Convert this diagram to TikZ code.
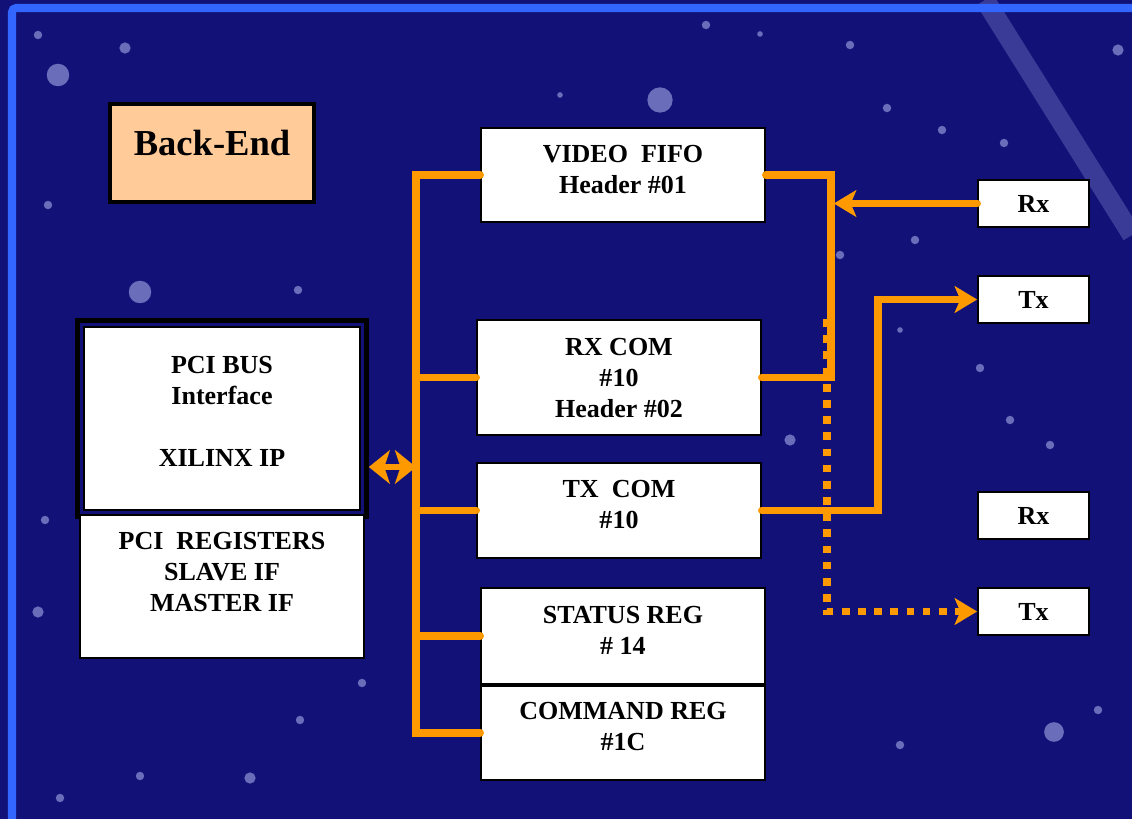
\documentclass[tikz,border=0pt]{standalone}
\usepackage{fontspec}
\setmainfont{Liberation Serif}
\usetikzlibrary{arrows.meta,positioning,fit,calc}
\definecolor{beNavy}{RGB}{17,17,120}
\definecolor{beFrame}{RGB}{51,102,255}
\definecolor{beOrange}{RGB}{255,153,0}
\definecolor{bePeach}{RGB}{255,204,153}
\definecolor{beStar}{RGB}{180,185,240}

\begin{document}
\begin{tikzpicture}[x=0.025cm, y=-0.025cm,
  blk/.style={draw, line width=1.2pt, fill=white, minimum width=7.1cm,
              font=\bfseries\fontsize{18.5}{22}\selectfont, align=center, text depth=8.5pt},
  port/.style={draw, line width=1.2pt, fill=white, minimum width=2.775cm,
               minimum height=1.175cm, font=\bfseries\fontsize{18.5}{22}\selectfont},
  bus/.style={line width=5.5pt, beOrange, line cap=round},
  arr/.style={bus, -{Stealth[length=16pt,width=19pt,inset=4pt]}},
  dots/.style={line width=5.5pt, beOrange, dash pattern=on 5.5pt off 6pt,
               -{Stealth[length=16pt,width=19pt,inset=4pt]}}
]
  \useasboundingbox (0,0) rectangle (1132,819);
  % background with stars
  \fill[beNavy] (0,0) rectangle (1132,819);
  \draw[beStar, opacity=0.25, line width=14pt] (985,0) -- (1132,235);
  \foreach \sx/\sy/\sr in {58/75/8, 38/35/3, 125/48/4, 140/292/8, 660/100/9, 48/205/3,
      298/290/3, 706/25/3, 760/34/2, 850/45/3, 887/108/3, 942/130/3, 1004/143/3,
      915/240/3, 900/330/2, 980/368/3, 1054/732/7, 1098/710/3, 38/612/4, 45/520/3,
      362/683/3, 250/778/4, 140/776/3, 1118/50/4, 560/95/2, 840/255/3, 1010/420/3,
      1050/445/3, 900/745/3, 60/798/3, 300/720/3, 790/440/4}
    \fill[beStar, opacity=0.55] (\sx,\sy) circle[radius=\sr pt];
  \draw[beFrame, line width=5.7pt, rounded corners=3pt] (12,819) -- (12,8) -- (1132,8);

  \node[draw, line width=3.5pt, fill=bePeach, minimum width=5.1cm, minimum height=2.45cm,
        font=\bfseries\fontsize{26}{30}\selectfont, text depth=15pt] (backend) at (212,153) {Back-End};

  % PCI side
  \node[blk, minimum width=6.9cm, minimum height=4.575cm, text depth=10pt] (pci) at (222,418.5)
       {PCI BUS\\Interface\\[22pt]XILINX IP};
  \node[draw, line width=3.5pt, fit=(pci), inner sep=3.9pt] (pciframe) {};
  \node[blk, minimum height=3.575cm, text depth=21pt] (regs) at (222,586.5)
       {PCI\ \ REGISTERS\\SLAVE IF\\MASTER IF};

  % register blocks
  \node[blk, minimum height=2.35cm]  (fifo)   at (623,175)   {VIDEO\ \ FIFO\\Header \#01};
  \node[blk, minimum height=2.875cm, text depth=0pt] (rxcom) at (619,377.5) {RX COM\\\#10\\Header \#02};
  \node[blk, minimum height=2.375cm] (txcom)  at (619,510.5) {TX\ \ COM\\\#10};
  \node[blk, minimum height=2.4cm]   (status) at (623,636)   {STATUS REG\\\# 14};
  \node[blk, minimum height=2.35cm, below=0pt of status] (cmd) {COMMAND REG\\\#1C};

  % ports
  \node[port] (rxa) at (1033.5,203.5) {Rx};
  \node[port] (txa) at (1033.5,299.5) {Tx};
  \node[port] (rxb) at (1033.5,515.5) {Rx};
  \node[port] (txb) at (1033.5,611.5) {Tx};

  % internal bus
  \coordinate (bx) at (416,0);
  \draw[bus] (fifo.west) -- (fifo.west -| bx) -- (cmd.west -| bx) -- (cmd.west);
  \foreach \n in {rxcom,txcom,status}
    \draw[bus] (\n.west) -- (\n.west -| bx);
  \draw[beOrange, line width=4pt, {Stealth[length=15pt,width=24pt,inset=4pt]}-{Stealth[length=15pt,width=24pt,inset=4pt]}]
    (pciframe.east |- 0,467) -- (bx |- 0,467);

  % links to the ports
  \coordinate (jx) at (831,0);
  \coordinate (dx) at (827,0);
  \coordinate (tx) at (878,0);
  \draw[dots] (rxcom.north -| dx) -- (txb.west -| dx) -- (txb.west);
  \draw[bus] (fifo.east) -- (fifo.east -| jx) -- (rxcom.east -| jx) -- (rxcom.east);
  \draw[arr, shorten >=2pt] (rxa.west) -- (rxa.west -| jx);
  \draw[arr] (txcom.east) -- (txcom.east -| tx) |- (txa.west);
\end{tikzpicture}
\end{document}
